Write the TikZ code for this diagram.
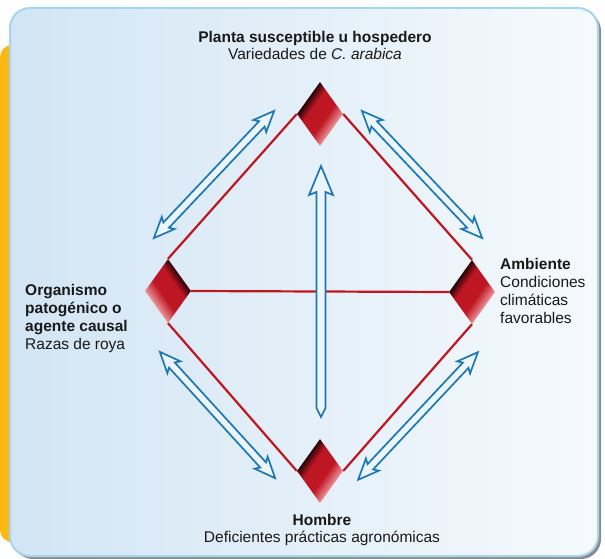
\documentclass[tikz,border=0pt]{standalone}
\usepackage{fontspec}
\setmainfont{Liberation Sans}
\usetikzlibrary{shapes.geometric,shapes.arrows}
\definecolor{panelL}{HTML}{D2E5F4}
\definecolor{panelR}{HTML}{F6FAFD}
\definecolor{panelB}{HTML}{A6D5F0}
\definecolor{barY}{HTML}{FDB913}
\definecolor{redL}{HTML}{C0161F}
\definecolor{arrB}{HTML}{1B78B4}
\definecolor{arrF}{HTML}{EDF5FC}
\definecolor{diaD}{HTML}{1E0306}
\definecolor{diaR}{HTML}{BE1622}
\definecolor{diaP}{HTML}{F2A4A8}
\pgfdeclareverticalshading{diashade}{100bp}{color(0bp)=(diaP); color(31bp)=(diaP); color(44bp)=(diaR); color(59bp)=(diaR); color(68bp)=(diaD); color(100bp)=(diaD)}
\tikzset{
  dia/.style={diamond, shade, shading=diashade, minimum width=46pt, minimum height=64pt, inner sep=0pt},
  redline/.style={redL, line width=2.2pt},
  hollow/.style={draw=arrB, fill=arrF, line width=1.7pt, line join=miter},
  dblarr/.style={double arrow, hollow, inner xsep=0pt, inner ysep=3pt, minimum width=1pt,
    double arrow head extend=5pt, double arrow tip angle=46, double arrow head indent=3pt},
  lbl/.style={inner sep=0pt, text=black!90, font=\fontsize{15.5}{18}\selectfont}
}
\begin{document}
\begin{tikzpicture}[x=1pt,y=-1pt]
\fill[white] (0,0) rectangle (605,559);
\useasboundingbox (0,0) rectangle (605,559);
% panel
\fill[barY, rounded corners=12pt] (0,45) rectangle (20,542);
\fill[black!45, rounded corners=20pt] (13,11) rectangle (601,559);
\shade[left color=panelL, right color=panelR, draw=panelB, line width=2pt, rounded corners=20pt] (10,8) rectangle (598,556);

% the four corners
\node[dia, shading angle=55] (host) at (320,114) {};
\node[dia, shading angle=-55] (patho) at (168,291) {};
\node[dia, shading angle=55] (amb) at (472,292) {};
\node[dia, shading angle=55] (man) at (320,471) {};

\draw[redline] (host.west) -- (patho.north);
\draw[redline] (host.east) -- (amb.north);
\draw[redline] (patho.south) -- (man.west);
\draw[redline] (amb.south) -- (man.east);
\draw[redline] (patho.east) -- (amb.west);

% double arrows
\node[dblarr, minimum height=175pt, rotate=46.6] (ul) at (214,174.5) {};
\node[dblarr, minimum height=175pt, rotate=-46.6] (ur) at (422,174.5) {};
\node[dblarr, minimum height=171pt, rotate=-47.6] (ll) at (217.5,415) {};
\node[dblarr, minimum height=175pt, rotate=46.8] (lr) at (418,416) {};
\draw[hollow] (321,417) -- (316.5,408) -- (316.5,192) -- (309,195) -- (321,166)
  -- (333,195) -- (325.5,192) -- (325.5,408) -- cycle;

% labels
\node[lbl, anchor=north, align=center, font=\fontsize{15.5}{17}\selectfont] (hostlbl) at (315,31)
  {\textbf{Planta susceptible u hospedero}\\Variedades de \textit{C. arabica}};
\node[lbl, anchor=north west, align=left] (patholbl) at (25,284)
  {\textbf{Organismo}\\\textbf{patogénico o}\\\textbf{agente causal}\\Razas de roya};
\node[lbl, anchor=north west, align=left] (amblbl) at (500,258)
  {\textbf{Ambiente}\\Condiciones\\climáticas\\favorables};
\node[lbl, anchor=north, align=center, font=\fontsize{15.5}{17}\selectfont] (manlbl) at (322,514)
  {\textbf{Hombre}\\Deficientes prácticas agronómicas};
\end{tikzpicture}
\end{document}
